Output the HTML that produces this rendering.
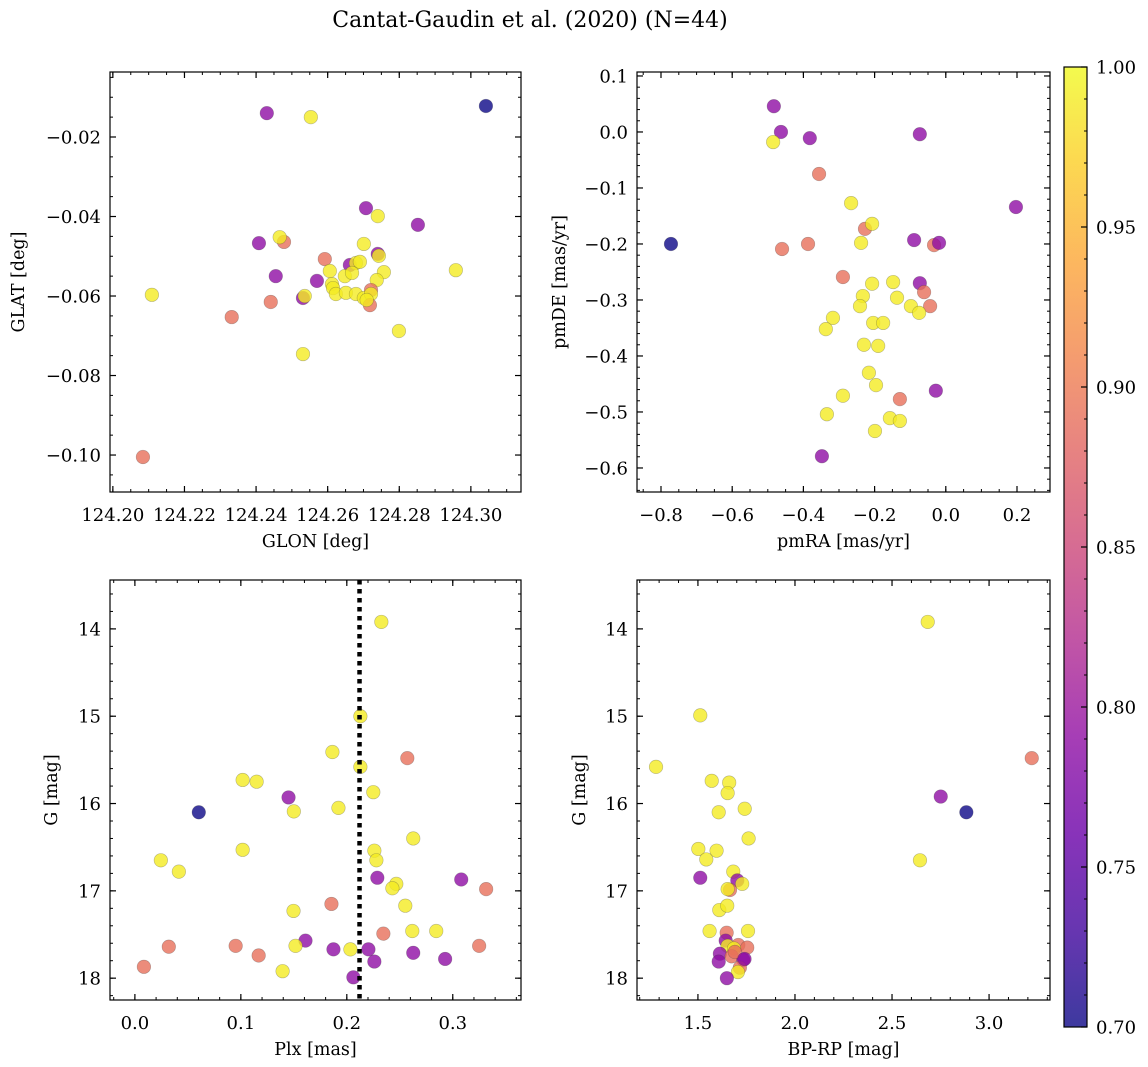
<!DOCTYPE html>
<html><head><meta charset="utf-8"><style>
body{margin:0;background:#fff;}
svg{display:block;font-family:"DejaVu Serif","Liberation Serif",serif;}
</style></head><body>
<svg id="fig" width="1148" height="1067" viewBox="0 0 1148 1067" xmlns="http://www.w3.org/2000/svg">
<defs>
<linearGradient id="cbg" x1="0" y1="1" x2="0" y2="0">
<stop offset="0" stop-color="#0d0887"/><stop offset="0.1" stop-color="#41049d"/><stop offset="0.2" stop-color="#6a00a8"/><stop offset="0.3" stop-color="#8f0da4"/><stop offset="0.4" stop-color="#b12a90"/><stop offset="0.5" stop-color="#cc4778"/><stop offset="0.6" stop-color="#e16462"/><stop offset="0.7" stop-color="#f2844b"/><stop offset="0.8" stop-color="#fca636"/><stop offset="0.9" stop-color="#fcce25"/><stop offset="1" stop-color="#f0f921"/>
</linearGradient>
</defs>
<text x="530" y="27" font-size="22" text-anchor="middle">Cantat-Gaudin et al. (2020) (N=44)</text>
</svg>
<script>
// Panel 1: GLON vs GLAT
const p1Glon=[124.3042,124.2430,124.2553,124.2707,124.2740,124.2852,124.2408,124.2478,124.2466,124.2701,124.2592,124.2662,124.2740,124.2679,124.2690,124.2743,124.2606,124.2648,124.2668,124.2757,124.2455,124.2958,124.2570,124.2612,124.2615,124.2737,124.2721,124.2109,124.2531,124.2536,124.2623,124.2651,124.2679,124.2701,124.2721,124.2441,124.2718,124.2709,124.2332,124.2799,124.2531,124.2084];
const p1Glat=[-0.0122,-0.0140,-0.0150,-0.0379,-0.0399,-0.0421,-0.0467,-0.0464,-0.0452,-0.0469,-0.0507,-0.0522,-0.0494,-0.0517,-0.0514,-0.0499,-0.0537,-0.0550,-0.0542,-0.0540,-0.0550,-0.0535,-0.0562,-0.0570,-0.0580,-0.0560,-0.0585,-0.0597,-0.0605,-0.0600,-0.0595,-0.0592,-0.0595,-0.0605,-0.0595,-0.0615,-0.0623,-0.0610,-0.0653,-0.0688,-0.0746,-0.1005];
const p1Prob=[0.70,0.79,0.99,0.79,0.99,0.79,0.79,0.89,0.99,0.99,0.89,0.79,0.79,0.99,0.99,0.99,0.99,0.99,0.99,0.99,0.79,0.99,0.79,0.99,0.99,0.99,0.89,0.99,0.79,0.99,0.99,0.99,0.99,0.99,0.99,0.89,0.89,0.99,0.89,0.99,0.99,0.89];
const p1XTicks=[124.20,124.22,124.24,124.26,124.28,124.30];
const p1XLabels=["124.20","124.22","124.24","124.26","124.28","124.30"];
const p1YTicks=[-0.02,-0.04,-0.06,-0.08,-0.10];
const p1YLabels=["−0.02","−0.04","−0.06","−0.08","−0.10"];
// Panel 2: pmRA vs pmDE
const p2PmRA=[-0.483,-0.463,-0.485,-0.382,-0.073,-0.356,-0.266,0.197,-0.772,-0.460,-0.387,-0.227,-0.207,-0.238,-0.089,-0.033,-0.019,-0.289,-0.207,-0.148,-0.073,-0.061,-0.233,-0.137,-0.241,-0.098,-0.044,-0.075,-0.317,-0.204,-0.337,-0.176,-0.230,-0.190,-0.216,-0.196,-0.028,-0.289,-0.129,-0.334,-0.157,-0.129,-0.199,-0.348];
const p2PmDE=[0.046,0.000,-0.018,-0.011,-0.004,-0.075,-0.127,-0.134,-0.200,-0.209,-0.200,-0.173,-0.164,-0.198,-0.193,-0.202,-0.198,-0.259,-0.271,-0.268,-0.270,-0.286,-0.293,-0.296,-0.311,-0.311,-0.311,-0.323,-0.332,-0.341,-0.352,-0.341,-0.380,-0.382,-0.430,-0.452,-0.462,-0.471,-0.477,-0.504,-0.511,-0.516,-0.534,-0.579];
const p2Prob=[0.79,0.79,0.99,0.79,0.79,0.89,0.99,0.79,0.70,0.89,0.89,0.89,0.99,0.99,0.79,0.89,0.79,0.89,0.99,0.99,0.79,0.89,0.99,0.99,0.99,0.99,0.89,0.99,0.99,0.99,0.99,0.99,0.99,0.99,0.99,0.99,0.79,0.99,0.89,0.99,0.99,0.99,0.99,0.79];
const p2XTicks=[-0.8,-0.6,-0.4,-0.2,0.0,0.2];
const p2XLabels=["−0.8","−0.6","−0.4","−0.2","0.0","0.2"];
const p2YTicks=[0.1,0.0,-0.1,-0.2,-0.3,-0.4,-0.5,-0.6];
const p2YLabels=["0.1","0.0","−0.1","−0.2","−0.3","−0.4","−0.5","−0.6"];
// Panel 3: Plx vs G
const p3Plx=[0.2326,0.2128,0.1864,0.2128,0.2571,0.1017,0.1149,0.2250,0.1450,0.0603,0.1500,0.1921,0.2627,0.1017,0.2260,0.2279,0.0245,0.0415,0.2288,0.3080,0.2467,0.2430,0.3315,0.1855,0.2552,0.1497,0.2618,0.2844,0.2345,0.1610,0.1516,0.0320,0.0951,0.3249,0.2034,0.1874,0.2204,0.1168,0.2627,0.2260,0.2928,0.1394,0.0085,0.2062];
const p3G=[13.92,15.00,15.41,15.58,15.48,15.73,15.75,15.87,15.93,16.10,16.09,16.05,16.40,16.53,16.54,16.65,16.65,16.78,16.85,16.87,16.92,16.97,16.98,17.15,17.17,17.23,17.46,17.46,17.49,17.57,17.63,17.64,17.63,17.63,17.67,17.67,17.67,17.74,17.71,17.81,17.78,17.92,17.87,17.99];
const p3Prob=[0.99,0.99,0.99,0.99,0.89,0.99,0.99,0.99,0.79,0.70,0.99,0.99,0.99,0.99,0.99,0.99,0.99,0.99,0.79,0.79,0.99,0.99,0.89,0.89,0.99,0.99,0.99,0.99,0.89,0.79,0.99,0.89,0.89,0.89,0.99,0.79,0.79,0.89,0.79,0.79,0.79,0.99,0.89,0.79];
const p3PlxLine=[0.212];
const p3XTicks=[0.0,0.1,0.2,0.3];
const p3XLabels=["0.0","0.1","0.2","0.3"];
const gTicks=[14,15,16,17,18];
const gLabels=["14","15","16","17","18"];
// Panel 4: BP-RP vs G
const p4BpRp=[2.684,1.512,1.284,3.220,1.571,1.661,1.653,2.751,2.883,1.607,1.741,1.761,1.502,1.596,1.543,2.644,1.512,1.682,1.703,1.728,1.665,1.653,1.610,1.651,1.560,1.758,1.648,1.643,1.708,1.754,1.653,1.686,1.613,1.674,1.734,1.607,1.716,1.706,1.649,1.690,1.740];
const p4G=[13.92,14.99,15.58,15.48,15.74,15.76,15.88,15.92,16.10,16.10,16.06,16.40,16.52,16.54,16.64,16.65,16.85,16.78,16.88,16.92,16.99,16.98,17.22,17.17,17.46,17.46,17.48,17.57,17.62,17.65,17.63,17.66,17.72,17.75,17.79,17.81,17.88,17.93,18.00,17.70,17.78];
const p4Prob=[0.99,0.99,0.99,0.89,0.99,0.99,0.99,0.79,0.70,0.99,0.99,0.99,0.99,0.99,0.99,0.99,0.79,0.99,0.79,0.99,0.89,0.99,0.99,0.99,0.99,0.99,0.89,0.79,0.89,0.89,0.99,0.99,0.79,0.89,0.79,0.79,0.89,0.99,0.79,0.89,0.79];
const p4XTicks=[1.5,2.0,2.5,3.0];
const p4XLabels=["1.5","2.0","2.5","3.0"];
// Colorbar
const cbTicks=[1.00,0.95,0.90,0.85,0.80,0.75,0.70];
const cbLabels=["1.00","0.95","0.90","0.85","0.80","0.75","0.70"];

const NS="http://www.w3.org/2000/svg";
const fig=document.getElementById('fig');
const TF=18, LF=17.5;
const stops=[[13,8,135],[65,4,157],[106,0,168],[143,13,164],[177,42,144],[204,71,120],[225,100,98],[242,132,75],[252,166,54],[252,206,37],[240,249,33]];
function plasma(v){let t=(v-0.7)/0.3;t=Math.max(0,Math.min(1,t));const f=t*10;const i=Math.min(9,Math.floor(f));const r=f-i;const a=stops[i],b=stops[i+1];return 'rgb('+[0,1,2].map(k=>Math.round(a[k]+(b[k]-a[k])*r)).join(',')+')';}
function mk(tag,attrs,parent){const e=document.createElementNS(NS,tag);for(const k in attrs)e.setAttribute(k,attrs[k]);(parent||fig).appendChild(e);return e;}

function panel(o){
  const g=mk('g',{});
  
  
  const sx=v=>o.x0+(v-o.xmin)/(o.xmax-o.xmin)*(o.x1-o.x0);
  const sy=v=>o.y1-(v-o.ymin)/(o.ymax-o.ymin)*(o.y1-o.y0);
  for(let i=0;i<o.xs.length;i++){
    const c=mk('circle',{cx:sx(o.xs[i]),cy:sy(o.ys[i]),r:6.8,fill:plasma(o.ps[i]),'fill-opacity':0.8,stroke:'rgba(60,60,60,0.35)','stroke-width':0.6},g);
    
    
  }
  if(o.vline){for(const v of o.vline){
    const lg=mk('g',{},g);
    
    
    const X=sx(v);
    for(let y=o.y0;y<o.y1;y+=9){mk('rect',{x:X-2.25,y:y,width:4.5,height:Math.min(4.5,o.y1-y),fill:'#000'},lg);}
  }}
  const fr=mk('rect',{x:o.x0,y:o.y0,width:o.x1-o.x0,height:o.y1-o.y0,fill:'none',stroke:'#000','stroke-width':1.2},g);
  
  
  const eps=1e-9;
  for(let v=Math.ceil(o.xmin/o.xminor-eps)*o.xminor;v<=o.xmax+eps;v+=o.xminor){const X=sx(v);mk('line',{x1:X,x2:X,y1:o.y1,y2:o.y1-3,stroke:'#000','stroke-width':1},g);mk('line',{x1:X,x2:X,y1:o.y0,y2:o.y0+3,stroke:'#000','stroke-width':1},g);}
  for(let v=Math.ceil(o.ymin/o.yminor-eps)*o.yminor;v<=o.ymax+eps;v+=o.yminor){const Y=sy(v);mk('line',{x1:o.x0,x2:o.x0+3,y1:Y,y2:Y,stroke:'#000','stroke-width':1},g);mk('line',{x1:o.x1,x2:o.x1-3,y1:Y,y2:Y,stroke:'#000','stroke-width':1},g);}
  o.xt.forEach((v,i)=>{const X=sx(v);mk('line',{x1:X,x2:X,y1:o.y1,y2:o.y1-6,stroke:'#000','stroke-width':1.2},g);mk('line',{x1:X,x2:X,y1:o.y0,y2:o.y0+6,stroke:'#000','stroke-width':1.2},g);
    const t=mk('text',{x:X,y:o.y1+29,'font-size':TF,'text-anchor':'middle'},g);t.textContent=o.xl[i];
    
    });
  o.yt.forEach((v,i)=>{const Y=sy(v);mk('line',{x1:o.x0,x2:o.x0+6,y1:Y,y2:Y,stroke:'#000','stroke-width':1.2},g);mk('line',{x1:o.x1,x2:o.x1-6,y1:Y,y2:Y,stroke:'#000','stroke-width':1.2},g);
    const t=mk('text',{x:o.x0-9,y:Y+6.5,'font-size':TF,'text-anchor':'end'},g);t.textContent=o.yl[i];
    
    });
  const xt=mk('text',{x:(o.x0+o.x1)/2,y:o.y1+55,'font-size':LF,'text-anchor':'middle'},g);xt.textContent=o.xlabel;
  
  
  const yc=(o.y0+o.y1)/2;
  const yt=mk('text',{x:o.ylx,y:yc,'font-size':LF,'text-anchor':'middle',transform:'rotate(-90 '+o.ylx+' '+yc+')'},g);yt.textContent=o.ylabel;
  
  
}
panel({name:'glon-glat-panel',x0:110,x1:521,y0:72,y1:492,xmin:124.1992,xmax:124.3140,ymin:-0.1093,ymax:-0.00365,xs:p1Glon,ys:p1Glat,ps:p1Prob,xt:p1XTicks,xl:p1XLabels,yt:p1YTicks,yl:p1YLabels,xminor:0.005,yminor:0.005,xlabel:'GLON [deg]',ylabel:'GLAT [deg]',ylx:24});
panel({name:'proper-motion-panel',x0:637,x1:1050,y0:72,y1:492,xmin:-0.8674,xmax:0.2927,ymin:-0.6429,ymax:0.1071,xs:p2PmRA,ys:p2PmDE,ps:p2Prob,xt:p2XTicks,xl:p2XLabels,yt:p2YTicks,yl:p2YLabels,xminor:0.05,yminor:0.02,xlabel:'pmRA [mas/yr]',ylabel:'pmDE [mas/yr]',ylx:565});
panel({name:'parallax-magnitude-panel',x0:110,x1:521,y0:580,y1:1000,xmin:-0.0235,xmax:0.3644,ymin:-18.25,ymax:-13.44,xs:p3Plx,ys:p3G.map(v=>-v),ps:p3Prob,xt:p3XTicks,xl:p3XLabels,yt:gTicks.map(v=>-v),yl:gLabels,xminor:0.02,yminor:0.2,xlabel:'Plx [mas]',ylabel:'G [mag]',ylx:57,vline:p3PlxLine});
panel({name:'color-magnitude-panel',x0:637,x1:1050,y0:580,y1:1000,xmin:1.186,xmax:3.314,ymin:-18.25,ymax:-13.44,xs:p4BpRp,ys:p4G.map(v=>-v),ps:p4Prob,xt:p4XTicks,xl:p4XLabels,yt:gTicks.map(v=>-v),yl:gLabels,xminor:0.1,yminor:0.2,xlabel:'BP-RP [mag]',ylabel:'G [mag]',ylx:585});

const cb=mk('g',{});


const cx0=1064,cx1=1087,cy0=67,cy1=1027;
const cbr=mk('rect',{x:cx0,y:cy0,width:cx1-cx0,height:cy1-cy0,fill:'url(#cbg)','fill-opacity':0.8,stroke:'#000','stroke-width':1.2},cb);


const cby=v=>cy1-(v-0.7)/0.3*(cy1-cy0);
for(let k=0;k<=30;k++){const v=0.7+k*0.01;const Y=cby(v);mk('line',{x1:cx1,x2:cx1-3,y1:Y,y2:Y,stroke:'#000','stroke-width':1},cb);}
cbTicks.forEach((v,i)=>{const Y=cby(v);mk('line',{x1:cx1,x2:cx1-6,y1:Y,y2:Y,stroke:'#000','stroke-width':1.2},cb);
  const t=mk('text',{x:cx1+9,y:Y+6.5,'font-size':TF},cb);t.textContent=cbLabels[i];
  
  });
</script>
</body></html>
